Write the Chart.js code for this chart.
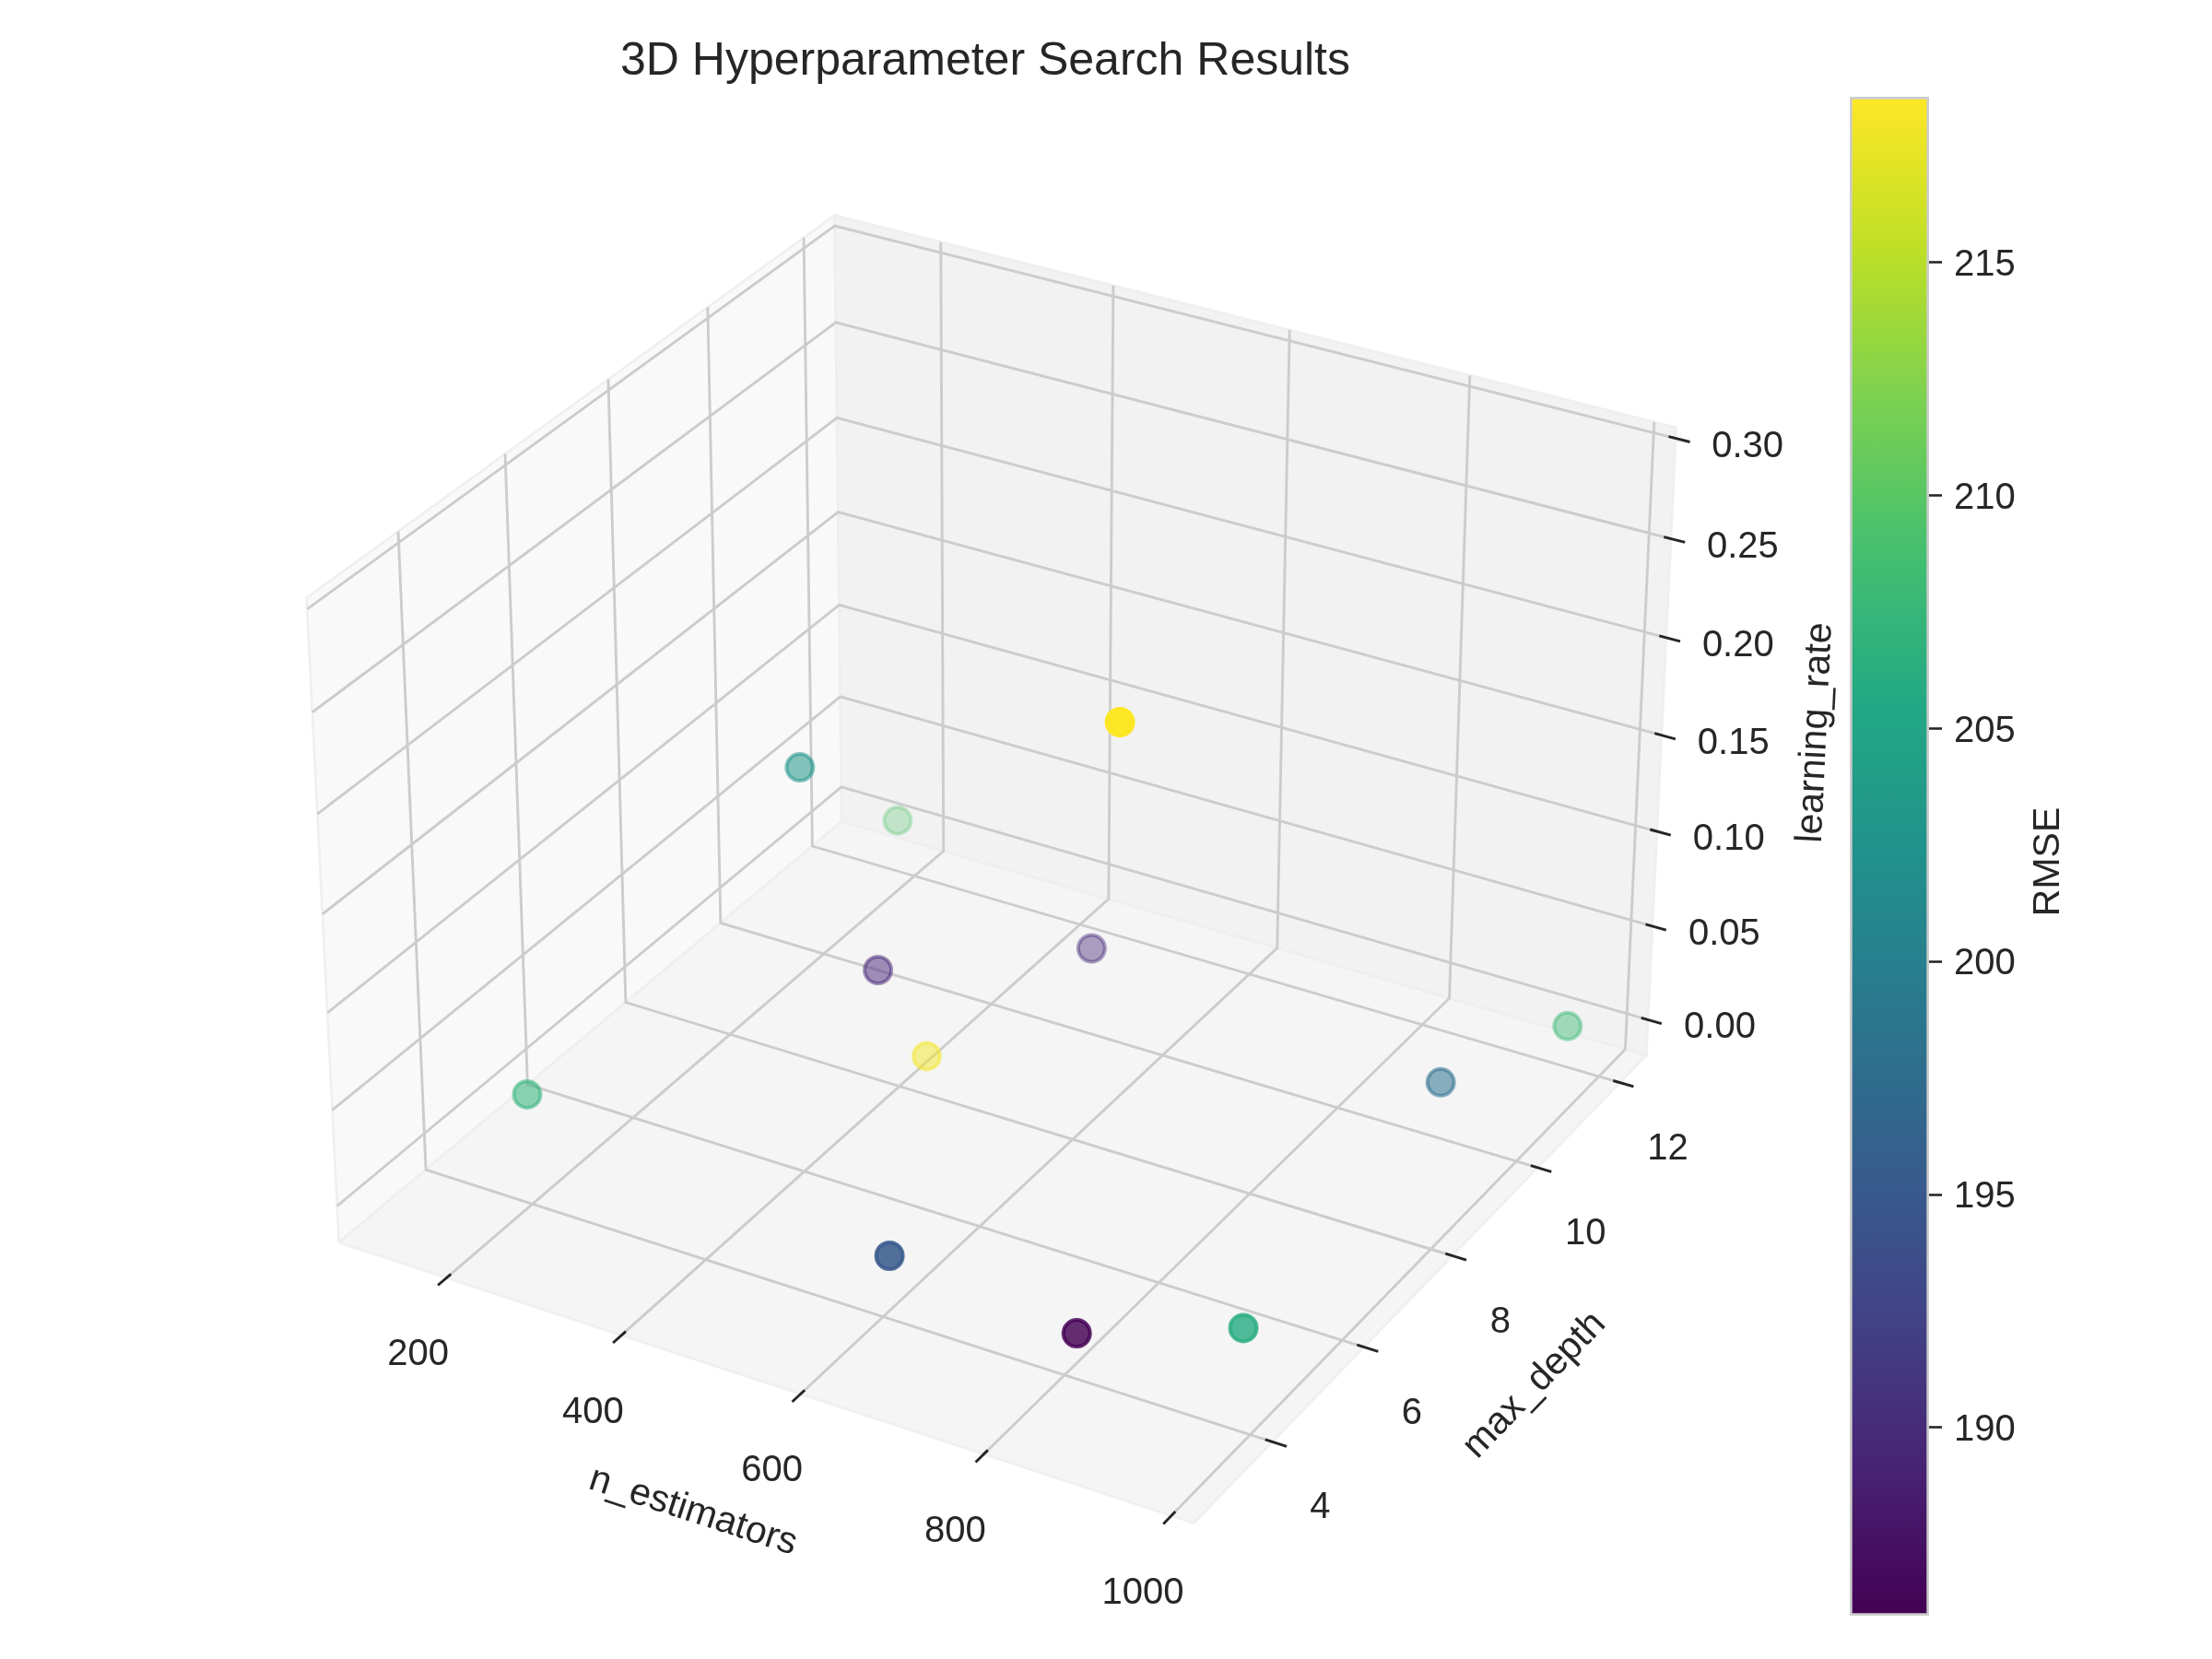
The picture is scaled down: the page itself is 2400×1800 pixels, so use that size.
<!DOCTYPE html>
<html>
<head>
<meta charset="utf-8">
<script src="https://cdn.jsdelivr.net/npm/chart.js@4"></script>
<style>
body { margin: 0; background: #fff; }
#wrap { position: relative; width: 2400px; height: 1800px; }
#main { position: absolute; left: 0; top: 0; }
#cbar { position: absolute; left: 2000px; top: 97px; }
</style>
</head>
<body>
<div id="wrap">
  <canvas id="main" width="2400" height="1800"></canvas>
  <canvas id="cbar" width="300" height="1664"></canvas>
</div>
<script>
// values
var nEstimators = [803, 235, 288, 376, 517, 432, 136, 963, 914, 663, 813, 942];
var maxDepth = [5, 11, 8, 8, 10, 8, 5, 12, 10, 3, 4, 5];
var learningRate = [0.284, 0.037, 0.1342, 0.0396, 0.0269, 0.0015, 0.0068, 0.0027, 0.0105, 0.0455, 0.0044, 0.0025];
var rmse = [218.5, 209.5, 203, 189.5, 190, 218, 207, 208, 198, 195, 186, 206];

var xTicks = [200, 400, 600, 800, 1000];
var yTicks = [4, 6, 8, 10, 12];
var zTicks = [0, 0.05, 0.1, 0.15, 0.2, 0.25, 0.3];
var cbarTicks = [190, 195, 200, 205, 210, 215];

var xLim = [93.6, 1004.6];
var yLim = [2.55, 12.45];
var zLim = [-0.0127, 0.2989];
var cbarLim = [185.96, 218.56];
var rmseRange = [186, 218.5];

var viridis = [[68,1,84],[72,36,117],[65,68,135],[53,95,141],[42,120,142],[33,145,140],[34,168,132],[68,191,112],[122,209,81],[189,223,38],[253,231,37]];

var FONT = '"Liberation Sans", Arial, sans-serif';
var TEXT = '#262626';
var GRID = '#cccccc';

function cmap(v) {
    var t = Math.min(1, Math.max(0, (v - rmseRange[0]) / (rmseRange[1] - rmseRange[0]))) * (viridis.length - 1);
    var i = Math.min(viridis.length - 2, Math.floor(t));
    var f = t - i;
    return [0, 1, 2].map(function (k) { return Math.round(viridis[i][k] + (viridis[i + 1][k] - viridis[i][k]) * f); });
}

// same view as a default mplot3d axes: elev 30, azim -60, box 4:4:3
var BOX = [1.19048, 1.19048, 0.89286];
var U = [0.86603, 0.5, 0];
var V = [-0.25, 0.43301, 0.86603];
var W = [0.43301, -0.75, 0.5];
var SCALE = 8565, CX = 1090.6, CY = 907.5;
var P = 1 / 48; // panes stick out this far past the limits

function dot(a, b) { return a[0] * b[0] + a[1] * b[1] + a[2] * b[2]; }
function depth(a, b, c) {
    return dot(W, [BOX[0] * (a - 0.5), BOX[1] * (b - 0.5), BOX[2] * (c - 0.5)]);
}
// a, b, c are 0..1 inside the axis limits
function proj(a, b, c) {
    var d = [BOX[0] * (a - 0.5), BOX[1] * (b - 0.5), BOX[2] * (c - 0.5)];
    var w = 10 - dot(W, d);
    return { x: CX + SCALE * dot(U, d) / w, y: CY - SCALE * dot(V, d) / w };
}
function nx(v) { return (v - xLim[0]) / (xLim[1] - xLim[0]); }
function ny(v) { return (v - yLim[0]) / (yLim[1] - yLim[0]); }
function nz(v) { return (v - zLim[0]) / (zLim[1] - zLim[0]); }

var datasets = [];

function addPane(c1, c2, c3, c4, color) {
    datasets.push({
        data: [proj.apply(null, c1), proj.apply(null, c2), proj.apply(null, c3), proj.apply(null, c4), proj.apply(null, c1)],
        showLine: true, fill: 'shape', backgroundColor: color,
        borderColor: 'rgba(238,238,238,0.9)', borderWidth: 2.8, pointRadius: 0, tension: 0, order: 30
    });
}
function addLine(pts, color, order) {
    datasets.push({
        data: pts.map(function (p) { return proj(p[0], p[1], p[2]); }),
        showLine: true, fill: false, borderColor: color, borderWidth: 2.9, pointRadius: 0, tension: 0, order: order
    });
}

var lo = -P, hi = 1 + P, tIn = 0.0083, tOut = 0.0167;

addPane([lo, lo, lo], [hi, lo, lo], [hi, hi, lo], [lo, hi, lo], '#f5f5f5'); // floor
addPane([lo, hi, lo], [hi, hi, lo], [hi, hi, hi], [lo, hi, hi], '#f2f2f2'); // back wall
addPane([lo, lo, lo], [lo, hi, lo], [lo, hi, hi], [lo, lo, hi], '#f9f9f9'); // left wall

var labels = [];

xTicks.forEach(function (v) {
    var a = nx(v);
    addLine([[a, lo, lo], [a, hi, lo], [a, hi, hi]], GRID, 20);
    addLine([[a, lo + tIn, lo], [a, lo - tOut, lo]], TEXT, 10);
    var p = proj(a, lo, lo);
    labels.push({ t: String(v), x: p.x - 31, y: p.y + 84 });
});
yTicks.forEach(function (v) {
    var b = ny(v);
    addLine([[hi, b, lo], [lo, b, lo], [lo, b, hi]], GRID, 20);
    addLine([[hi - tIn, b, lo], [hi + tOut, b, lo]], TEXT, 10);
    var p = proj(hi, b, lo);
    labels.push({ t: String(v), x: p.x + 52, y: p.y + 72 });
});
zTicks.forEach(function (v) {
    var c = nz(v);
    addLine([[hi, hi, c], [lo, hi, c], [lo, lo, c]], GRID, 20);
    addLine([[hi - tIn, hi, c], [hi + tOut, hi, c]], TEXT, 10);
    var p = proj(hi, hi, c);
    labels.push({ t: v.toFixed(2), x: p.x + 78, y: p.y + 9 });
});

// points fade with distance from the viewer
var depths = nEstimators.map(function (v, i) { return depth(nx(v), ny(maxDepth[i]), nz(learningRate[i])); });
var dMin = Math.min.apply(null, depths), dMax = Math.max.apply(null, depths);
var pointColors = rmse.map(function (v, i) {
    var c = cmap(v);
    var alpha = 1 - 0.7 * (dMax - depths[i]) / (dMax - dMin);
    return 'rgba(' + c[0] + ',' + c[1] + ',' + c[2] + ',' + alpha.toFixed(3) + ')';
});
datasets.push({
    data: nEstimators.map(function (v, i) { return proj(nx(v), ny(maxDepth[i]), nz(learningRate[i])); }),
    showLine: false,
    pointRadius: 14.5,
    pointBorderWidth: 4,
    pointBackgroundColor: pointColors,
    pointBorderColor: pointColors,
    order: 1
});

var axisText = {
    id: 'axisText',
    afterDraw: function (chart) {
        var ctx = chart.ctx;
        function put(t, x, y, size, rot) {
            ctx.save();
            ctx.translate(x, y);
            ctx.rotate((rot || 0) * Math.PI / 180);
            ctx.font = size + 'px ' + FONT;
            ctx.fillStyle = TEXT;
            ctx.textAlign = 'center';
            ctx.textBaseline = 'middle';
            ctx.fillText(t, 0, 0);
            ctx.restore();
        }
        labels.forEach(function (l) { put(l.t, l.x, l.y, 40); });
        put('3D Hyperparameter Search Results', 1069, 67, 50);
        put('n_estimators', 752, 1640, 41, 18);
        put('max_depth', 1665, 1503, 41, -46);
        put('learning_rate', 1970, 795, 41, -87.3);
        put('RMSE', 2223, 935, 41, -90);
    }
};

new Chart(document.getElementById('main'), {
    type: 'scatter',
    data: { datasets: datasets },
    options: {
        responsive: false,
        animation: false,
        layout: { padding: 0, autoPadding: false },
        plugins: { legend: { display: false }, tooltip: { enabled: false } },
        scales: {
            x: { type: 'linear', min: 0, max: 2400, display: false },
            y: { type: 'linear', min: 0, max: 1800, reverse: true, display: false }
        }
    },
    plugins: [axisText]
});

new Chart(document.getElementById('cbar'), {
    type: 'bar',
    data: {
        labels: ['RMSE'],
        datasets: [{
            data: [cbarLim],
            barPercentage: 1,
            categoryPercentage: 1,
            borderColor: GRID,
            borderWidth: 3,
            borderSkipped: false,
            backgroundColor: function (ctx) {
                var s = ctx.chart.scales.y;
                if (!s || !ctx.chart.chartArea) return '#888';
                var g = ctx.chart.ctx.createLinearGradient(0, s.getPixelForValue(rmseRange[0]), 0, s.getPixelForValue(rmseRange[1]));
                viridis.forEach(function (c, i) {
                    g.addColorStop(i / (viridis.length - 1), 'rgb(' + c.join(',') + ')');
                });
                return g;
            }
        }]
    },
    options: {
        responsive: false,
        animation: false,
        layout: { padding: { left: 7, right: 0, top: 8, bottom: 8 }, autoPadding: false },
        plugins: { legend: { display: false }, tooltip: { enabled: false } },
        scales: {
            x: { display: false },
            y: {
                position: 'right',
                min: cbarLim[0],
                max: cbarLim[1],
                afterBuildTicks: function (s) { s.ticks = cbarTicks.map(function (v) { return { value: v }; }); },
                afterFit: function (s) { s.width = 207; s.paddingTop = 0; s.paddingBottom = 0; },
                grid: { drawOnChartArea: false, tickLength: 14, tickColor: TEXT, tickWidth: 2.6 },
                border: { display: false },
                ticks: { color: TEXT, padding: 13, labelOffset: 3, font: { family: FONT, size: 40 } }
            }
        }
    }
});
</script>
</body>
</html>
